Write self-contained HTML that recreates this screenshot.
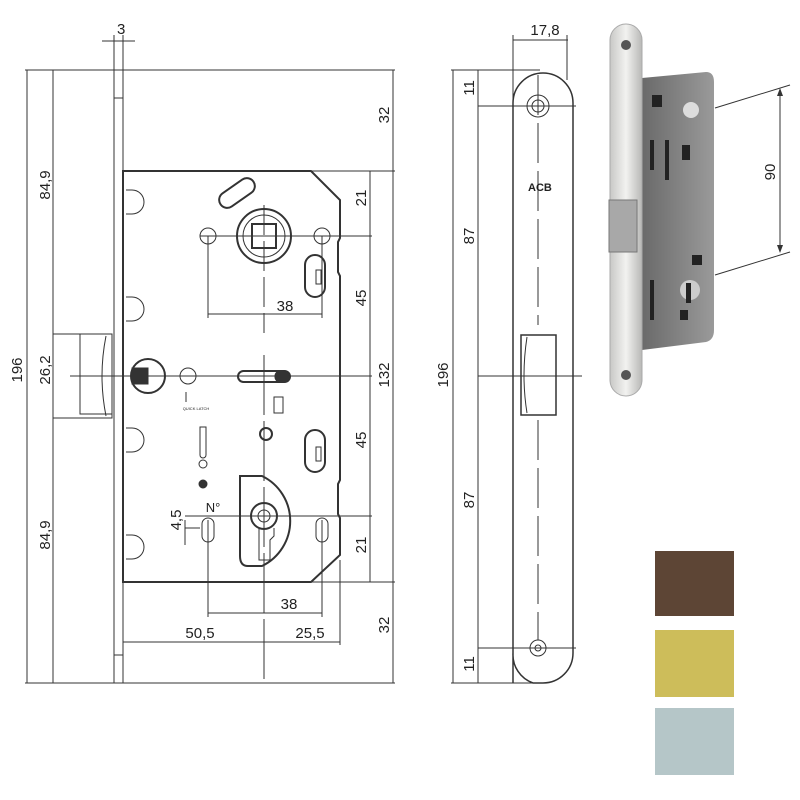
<!DOCTYPE html>
<html><head><meta charset="utf-8"><style>
html,body{margin:0;padding:0;background:#fff}
svg{display:block}
text{font-family:"Liberation Sans",Arial,sans-serif;fill:#222}
</style></head><body>
<svg width="800" height="800" viewBox="0 0 800 800" xmlns="http://www.w3.org/2000/svg">
<defs>
<linearGradient id="fp" x1="0" x2="1"><stop offset="0" stop-color="#c8c8c6"/><stop offset="0.5" stop-color="#f2f2f0"/><stop offset="1" stop-color="#b8b8b6"/></linearGradient>
<linearGradient id="bd" x1="0" x2="1"><stop offset="0" stop-color="#6a6a6a"/><stop offset="1" stop-color="#9a9a9a"/></linearGradient>
</defs>
<g stroke="#333" stroke-width="1" fill="none">
<line x1="25" y1="70" x2="395" y2="70"/>
<line x1="25" y1="683" x2="395" y2="683"/>
<line x1="27" y1="70" x2="27" y2="683"/>
<line x1="53" y1="70" x2="53" y2="683"/>
<line x1="393" y1="70" x2="393" y2="683"/>
<line x1="370" y1="171" x2="370" y2="582"/>
<line x1="123" y1="171" x2="395" y2="171"/>
<line x1="123" y1="582" x2="395" y2="582"/>
<rect x="114" y="70" width="9" height="613"/>
<line x1="114" y1="98" x2="123" y2="98"/>
<line x1="114" y1="655" x2="123" y2="655"/>
<line x1="102" y1="41" x2="135" y2="41"/>
<line x1="114" y1="35" x2="114" y2="70"/>
<line x1="123" y1="35" x2="123" y2="70"/>
<path d="M123 171 H311 L340 200 V238 L338 242 V272 L340 276 V480 L338 484 V514 L340 518 V555 L311 582 H123 Z" stroke-width="2"/>
<path d="M53 334 H112 V418 H53 Z"/>
<path d="M80 334 V414 H112"/>
<path d="M106 336 Q98 376 106 416"/>
<path d="M126 190 h6 a7 7 0 0 1 0 24 h-6"/>
<path d="M126 297 h6 a7 7 0 0 1 0 24 h-6"/>
<path d="M126 428 h6 a7 7 0 0 1 0 24 h-6"/>
<path d="M126 535 h6 a7 7 0 0 1 0 24 h-6"/>
<circle cx="264" cy="236" r="27" stroke-width="2"/>
<circle cx="264" cy="236" r="21"/>
<rect x="252" y="224" width="24" height="24" stroke-width="2"/>
<circle cx="208" cy="236" r="8"/>
<circle cx="322" cy="236" r="8"/>
<line x1="200" y1="236" x2="372" y2="236"/>
<line x1="208" y1="236" x2="208" y2="318"/>
<line x1="322" y1="236" x2="322" y2="318"/>
<line x1="208" y1="314" x2="322" y2="314"/>
<line x1="264" y1="205" x2="264" y2="333" stroke-dasharray="30 6"/>
<line x1="264" y1="355" x2="264" y2="680" stroke-dasharray="60 6"/>
<rect x="217" y="185" width="40" height="16" rx="8" transform="rotate(-35 237 193)" stroke-width="2"/>
<path d="M300 290 a10 10 0 0 1 0 -20 h22 a10 10 0 0 1 0 20 z" stroke-width="2" transform="rotate(90 315 280)"/>
<rect x="316" y="270" width="5" height="14"/>
<line x1="70" y1="376" x2="372" y2="376"/>
<circle cx="148" cy="376" r="17" stroke-width="2"/>
<rect x="132" y="368" width="16" height="16" fill="#333"/>
<circle cx="188" cy="376" r="8"/>
<rect x="238" y="371" width="52" height="11" rx="5.5" stroke-width="2"/>
<rect x="275" y="371" width="15" height="11" rx="5" fill="#333"/>
<line x1="186" y1="392" x2="186" y2="402"/>
<rect x="274" y="397" width="9" height="16"/>
<circle cx="266" cy="434" r="6" stroke-width="2"/>
<path d="M200 427 L206 427 L206 455 a3 3 0 0 1 -6 0 Z"/>
<circle cx="203" cy="464" r="4"/>
<circle cx="203" cy="484" r="4" fill="#333"/>
<path d="M300 465 a10 10 0 0 1 0 -20 h22 a10 10 0 0 1 0 20 z" stroke-width="2" transform="rotate(90 315 455)"/>
<rect x="316" y="447" width="5" height="14"/>
<path d="M240 476 H262 A50 50 0 0 1 262 566 H248 Q240 566 240 556 Z" stroke-width="2"/>
<circle cx="264" cy="516" r="13" stroke-width="2"/>
<circle cx="264" cy="516" r="6"/>
<path d="M259 528 V560 H270 V540 L274 536 V528"/>
<line x1="185" y1="516" x2="372" y2="516"/>
<rect x="202" y="518" width="12" height="24" rx="6"/>
<rect x="316" y="518" width="12" height="24" rx="6"/>
<line x1="208" y1="520" x2="208" y2="617"/>
<line x1="322" y1="520" x2="322" y2="617"/>
<line x1="208" y1="613" x2="322" y2="613"/>
<line x1="340" y1="560" x2="340" y2="645"/>
<line x1="123" y1="642" x2="340" y2="642"/>
<line x1="185" y1="520" x2="185" y2="545"/>
<line x1="185" y1="528" x2="200" y2="528"/>
<line x1="451" y1="70" x2="540" y2="70"/>
<line x1="451" y1="683" x2="540" y2="683"/>
<line x1="453" y1="70" x2="453" y2="683"/>
<line x1="478" y1="70" x2="478" y2="683"/>
<line x1="478" y1="106" x2="576" y2="106"/>
<line x1="478" y1="376" x2="582" y2="376"/>
<line x1="478" y1="648" x2="576" y2="648"/>
<path d="M513 683 V103 A30 30 0 0 1 573 103 V653 A30 30 0 0 1 543 683 H533 A30 30 0 0 1 513 653" stroke-width="1.5"/>
<line x1="513" y1="40" x2="568" y2="40"/>
<line x1="513" y1="35" x2="513" y2="100"/>
<line x1="567" y1="35" x2="567" y2="80"/>
<circle cx="538" cy="106" r="11"/>
<circle cx="538" cy="106" r="6"/>
<line x1="538" y1="75" x2="538" y2="325" stroke-dasharray="40 8"/>
<line x1="538" y1="420" x2="538" y2="640" stroke-dasharray="40 8"/>
<rect x="521" y="335" width="35" height="80" stroke-width="1.5"/>
<path d="M527 337 Q521 376 527 413"/>
<circle cx="538" cy="648" r="8"/>
<circle cx="538" cy="648" r="3"/>
<line x1="715" y1="108" x2="790" y2="85"/>
<line x1="715" y1="275" x2="790" y2="252"/>
<line x1="780" y1="92" x2="780" y2="250"/>
</g>
<text x="528" y="191" font-size="11" font-weight="bold">ACB</text>
<path d="M780 88 l-3 8 h6z M780 253 l-3 -8 h6z" fill="#333"/>
<path d="M642 78 L706 72 Q714 72 714 82 L714 330 Q714 340 706 342 L642 350 Z" fill="url(#bd)"/>
<rect x="610" y="24" width="32" height="372" rx="16" fill="url(#fp)" stroke="#aaa"/>
<circle cx="626" cy="45" r="5" fill="#555"/>
<circle cx="626" cy="375" r="5" fill="#555"/>
<rect x="609" y="200" width="28" height="52" fill="#a8a8a8" stroke="#777"/>
<g fill="#222"><rect x="652" y="95" width="10" height="12"/><rect x="650" y="140" width="4" height="30"/><rect x="682" y="145" width="8" height="15"/><rect x="665" y="140" width="4" height="40"/><rect x="650" y="280" width="4" height="40"/><rect x="680" y="310" width="8" height="10"/><rect x="692" y="255" width="10" height="10"/><circle cx="691" cy="110" r="8" fill="#ddd"/><circle cx="690" cy="290" r="10" fill="#ccc"/><rect x="686" y="283" width="5" height="20"/></g>
<rect x="655" y="551" width="79" height="65" fill="#5d4535"/>
<rect x="655" y="630" width="79" height="67" fill="#cdbd5a"/>
<rect x="655" y="708" width="79" height="67" fill="#b5c6c8"/>
<g font-size="15">
<text x="117" y="34">3</text>
<text transform="translate(389,115) rotate(-90)" text-anchor="middle">32</text>
<text transform="translate(366,198) rotate(-90)" text-anchor="middle">21</text>
<text transform="translate(366,298) rotate(-90)" text-anchor="middle">45</text>
<text transform="translate(389,375) rotate(-90)" text-anchor="middle">132</text>
<text transform="translate(366,440) rotate(-90)" text-anchor="middle">45</text>
<text transform="translate(366,545) rotate(-90)" text-anchor="middle">21</text>
<text transform="translate(389,625) rotate(-90)" text-anchor="middle">32</text>
<text transform="translate(22,370) rotate(-90)" text-anchor="middle">196</text>
<text transform="translate(50,370) rotate(-90)" text-anchor="middle">26,2</text>
<text transform="translate(50,185) rotate(-90)" text-anchor="middle">84,9</text>
<text transform="translate(50,535) rotate(-90)" text-anchor="middle">84,9</text>
<text x="285" y="311" text-anchor="middle">38</text>
<text x="289" y="609" text-anchor="middle">38</text>
<text x="200" y="638" text-anchor="middle">50,5</text>
<text x="310" y="638" text-anchor="middle">25,5</text>
<text transform="translate(181,520) rotate(-90)" text-anchor="middle">4,5</text>
<text x="213" y="512" text-anchor="middle" font-size="13">N°</text>
<text x="545" y="35" text-anchor="middle">17,8</text>
<text transform="translate(448,375) rotate(-90)" text-anchor="middle">196</text>
<text transform="translate(474,88) rotate(-90)" text-anchor="middle">11</text>
<text transform="translate(474,236) rotate(-90)" text-anchor="middle">87</text>
<text transform="translate(474,500) rotate(-90)" text-anchor="middle">87</text>
<text transform="translate(474,664) rotate(-90)" text-anchor="middle">11</text>
<text transform="translate(775,172) rotate(-90)" text-anchor="middle">90</text>
</g>
<text x="196" y="410" font-size="4" text-anchor="middle">QUICK LATCH</text>
</svg>
</body></html>
